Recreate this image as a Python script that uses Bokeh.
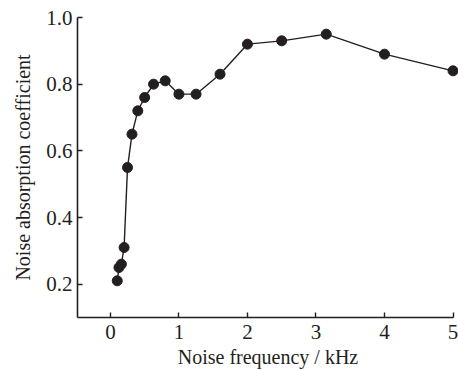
from bokeh.plotting import figure
from bokeh.embed import file_html
from bokeh.resources import INLINE
from bokeh.models import FixedTicker, Range1d, NumeralTickFormatter

freq_khz = [0.1, 0.125, 0.16, 0.2, 0.25, 0.315, 0.4, 0.5, 0.63, 0.8, 1.0, 1.25, 1.6, 2.0, 2.5, 3.15, 4.0, 5.0]
absorption = [0.21, 0.25, 0.26, 0.31, 0.55, 0.65, 0.72, 0.76, 0.80, 0.81, 0.77, 0.77, 0.83, 0.92, 0.93, 0.95, 0.89, 0.84]
x_ticks = [0, 1, 2, 3, 4, 5]
y_ticks = [0.2, 0.4, 0.6, 0.8, 1.0]

FONT = "Liberation Serif"
INK = "#231f20"

p = figure(width=458, height=370, output_backend="svg", toolbar_location=None,
           x_range=Range1d(-0.48, 5.08), y_range=Range1d(0.1, 1.0),
           min_border_left=77, min_border_right=0, min_border_top=17, min_border_bottom=50)
p.outline_line_color = None
p.grid.visible = False
p.background_fill_color = "white"
p.border_fill_color = "white"

p.line(freq_khz, absorption, line_color=INK, line_width=1.4)
p.scatter(freq_khz, absorption, size=10, fill_color=INK, line_color=INK)

for ax in (p.xaxis[0], p.yaxis[0]):
    ax.axis_line_color = INK
    ax.axis_line_width = 1.6
    ax.major_tick_line_color = INK
    ax.major_tick_line_width = 1.4
    ax.major_tick_in = 5
    ax.major_tick_out = 0
    ax.minor_tick_line_color = None
    ax.major_label_text_font = FONT
    ax.major_label_text_font_size = "21px"
    ax.major_label_text_color = INK
    ax.axis_label_text_font = FONT
    ax.axis_label_text_font_size = "20px"
    ax.axis_label_text_font_style = "normal"
    ax.axis_label_text_color = INK

p.xaxis.ticker = FixedTicker(ticks=x_ticks)
p.yaxis.ticker = FixedTicker(ticks=y_ticks)
p.yaxis.formatter = NumeralTickFormatter(format="0.0")
p.xaxis.bounds = (-0.48, 5.0)
p.xaxis.major_label_standoff = 7
p.yaxis.major_label_standoff = 5
p.xaxis.axis_label = "Noise frequency / kHz"
p.yaxis.axis_label = "Noise absorption coefficient"
p.xaxis.axis_label_standoff = 4
p.yaxis.axis_label_standoff = 9

open("out.html", "w").write(file_html(p, INLINE))
